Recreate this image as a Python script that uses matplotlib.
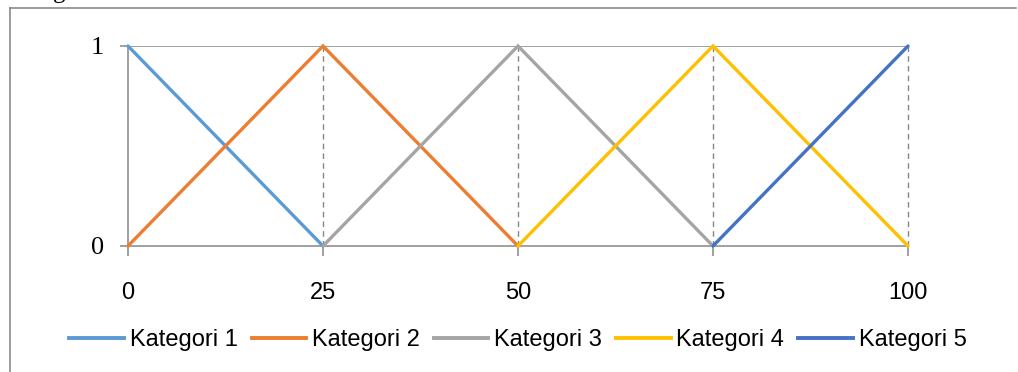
import matplotlib
matplotlib.use("Agg")
import matplotlib.pyplot as plt
from matplotlib.lines import Line2D

# Membership-style triangles over 0..100
categories = ["Kategori 1", "Kategori 2", "Kategori 3", "Kategori 4", "Kategori 5"]
series_x = [
    [0, 25],
    [0, 25, 50],
    [25, 50, 75],
    [50, 75, 100],
    [75, 100],
]
series_y = [
    [1, 0],
    [0, 1, 0],
    [0, 1, 0],
    [0, 1, 0],
    [0, 1],
]
colors = ["#5B9BD5", "#ED7D31", "#A5A5A5", "#FFC000", "#4472C4"]
x_ticks = [0, 25, 50, 75, 100]
y_ticks = [0, 1]
drop_x = [25, 50, 75, 100]

W, H = 1018, 372
fig = plt.figure(figsize=(W / 100, H / 100), dpi=100)
ax = fig.add_axes([128 / W, 1 - 246 / H, 780 / W, 200 / H])

grid_col = "#868686"
sans = "Liberation Sans"
serif = "Liberation Serif"

# drop lines from baseline up to the peak
for x in drop_x:
    ax.plot([x, x], [0, 1], color=grid_col, lw=1.0, ls=(0, (4, 3)),
            zorder=1, clip_on=False)
ax.axhline(1, color=grid_col, lw=1.1, zorder=1)

for xs, ys, c, name in zip(series_x, series_y, colors, categories):
    ax.plot(xs, ys, color=c, lw=2.4, label=name, zorder=3, clip_on=False,
            solid_capstyle="round", solid_joinstyle="miter")

ax.set_xlim(0, 100)
ax.set_ylim(0, 1)
ax.set_xticks(x_ticks)
ax.set_yticks(y_ticks)
ax.set_xticklabels([str(v) for v in x_ticks], fontfamily=sans, fontsize=17)
ax.set_yticklabels([str(v) for v in y_ticks], fontfamily=serif, fontsize=19)
ax.tick_params(axis="x", length=7, width=1.1, color=grid_col, pad=19)
ax.tick_params(axis="y", length=6, width=1.1, color=grid_col, pad=11)

for side in ("top", "right"):
    ax.spines[side].set_visible(False)
for side in ("left", "bottom"):
    ax.spines[side].set_color(grid_col)
    ax.spines[side].set_linewidth(1.1)
ax.patch.set_visible(False)

handles = [Line2D([], [], color=c, lw=2.8) for c in colors]
leg = fig.legend(handles, categories, loc="center", ncol=5,
                 bbox_to_anchor=(518 / W, 1 - 340 / H), frameon=False,
                 prop={"family": sans, "size": 17},
                 handlelength=2.3, handletextpad=0.25, columnspacing=0.6)

# page frame around the chart
fig.add_artist(Line2D([10 / W, 10 / W], [0, 1 - 8 / H], transform=fig.transFigure,
                      color="#808080", lw=1.1))
fig.add_artist(Line2D([10 / W, 1016 / W], [1 - 8 / H, 1 - 8 / H], transform=fig.transFigure,
                      color="#808080", lw=1.1))
# tail of the caption line above the frame
fig.text(53 / W, 1.0 + 2 / H, "g", fontfamily=serif, fontsize=18, va="baseline", ha="left")

fig.savefig("out.png", dpi=100)
